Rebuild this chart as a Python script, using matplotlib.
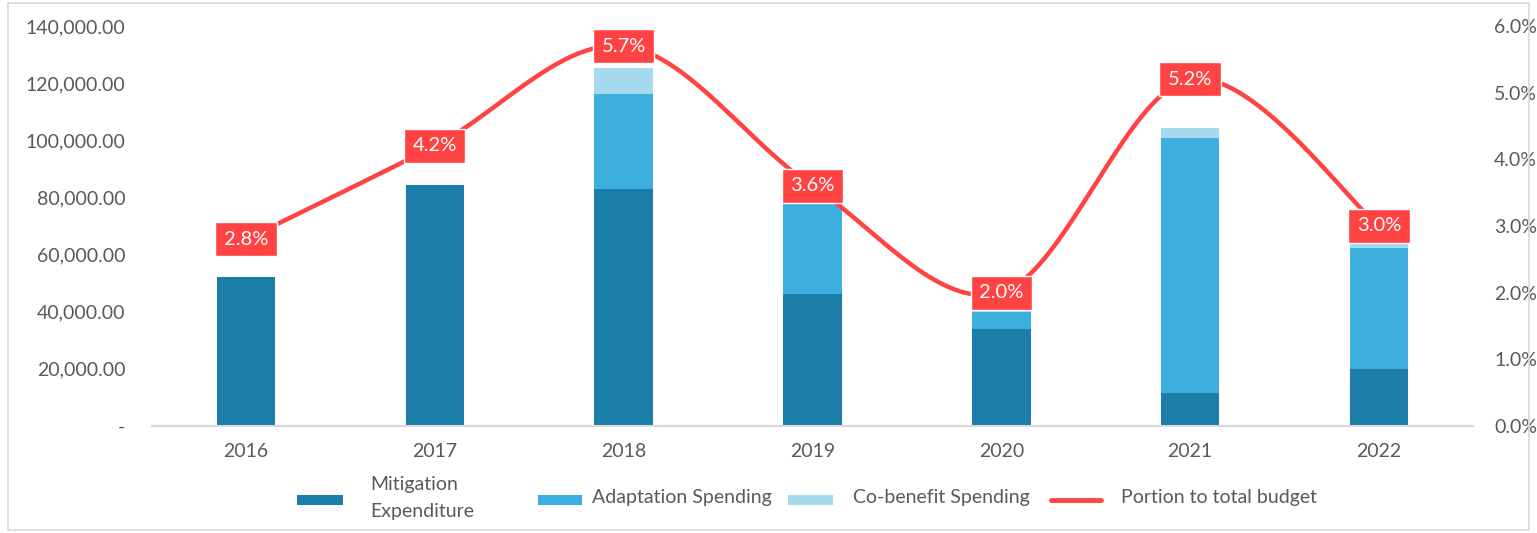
import matplotlib
matplotlib.use("Agg")
import matplotlib.pyplot as plt
import numpy as np
from matplotlib.patches import Rectangle
from matplotlib.lines import Line2D
from matplotlib.ticker import FuncFormatter

years = ["2016", "2017", "2018", "2019", "2020", "2021", "2022"]
mitigation = [52000, 84300, 82950, 46100, 33850, 11650, 19850]
adaptation = [0, 0, 33250, 32650, 6150, 89250, 42550]
cobenefit = [0, 0, 9200, 4550, 8300, 3500, 4100]
portion = [2.8, 4.2, 5.7, 3.6, 2.0, 5.2, 3.0]
series_names = ["Mitigation\nExpenditure", "Adaptation Spending", "Co-benefit Spending", "Portion to total budget"]

C_MIT = "#1B7EA8"
C_ADA = "#3DAFDE"
C_COB = "#A6DAEF"
C_LINE = "#FF4343"
C_TXT = "#595959"

plt.rcParams['font.family'] = ['Lato', 'DejaVu Sans']

W, H = 1537, 533
fig = plt.figure(figsize=(W / 100, H / 100), dpi=100)
ax = fig.add_axes([0.0986, 0.2008, 0.86, 0.7504])
x = np.arange(len(years))
w = 0.31
mit = np.array(mitigation, float)
ada = np.array(adaptation, float)
cob = np.array(cobenefit, float)
ax.bar(x, mit, w, color=C_MIT, zorder=2)
ax.bar(x, ada, w, bottom=mit, color=C_ADA, zorder=2)
ax.bar(x, cob, w, bottom=mit + ada, color=C_COB, zorder=2)

ax.set_xlim(-0.5, len(years) - 0.5)
ax.set_ylim(0, 140000)
ax.set_yticks(np.arange(0, 140001, 20000))
ax.yaxis.set_major_formatter(FuncFormatter(lambda v, p: "-" if v == 0 else f"{v:,.2f}"))
ax.set_xticks(x)
ax.set_xticklabels(years)
for s in ["top", "right", "left"]:
    ax.spines[s].set_visible(False)
ax.spines["bottom"].set_color("#D9D9D9")
ax.spines["bottom"].set_linewidth(1.5)
ax.tick_params(axis="both", length=0, colors=C_TXT, labelsize=14)
ax.tick_params(axis="y", pad=19)
ax.tick_params(axis="x", pad=12)

ax2 = ax.twinx()
ax2.set_ylim(0, 6)
ax2.set_yticks(np.arange(0, 6.01, 1))
ax2.yaxis.set_major_formatter(FuncFormatter(lambda v, p: f"{v:.1f}%"))
for s in ["top", "right", "left", "bottom"]:
    ax2.spines[s].set_visible(False)
ax2.tick_params(axis="y", length=0, colors=C_TXT, labelsize=14, pad=15)

# Smooth line (Bezier/Catmull-Rom through the data points)
px = x.astype(float)
py = np.array(portion, float)
pts = np.column_stack([px, py])
curve = []
n = len(pts)
for i in range(n - 1):
    p0 = pts[i - 1] if i > 0 else pts[i]
    p1 = pts[i]
    p2 = pts[i + 1]
    p3 = pts[i + 2] if i + 2 < n else pts[i + 1]
    c1 = p1 + (p2 - p0) / 6.0
    c2 = p2 - (p3 - p1) / 6.0
    t = np.linspace(0, 1, 40)[:, None]
    seg = ((1 - t) ** 3) * p1 + 3 * ((1 - t) ** 2) * t * c1 + 3 * (1 - t) * t ** 2 * c2 + t ** 3 * p2
    curve.append(seg if i == 0 else seg[1:])
curve = np.vstack(curve)
ax2.plot(curve[:, 0], curve[:, 1], color=C_LINE, lw=3.2, zorder=3, solid_capstyle="round")

for xi, v in zip(px, py):
    ax2.text(xi, v, f"{v:.1f}%", ha="center", va="center", color="white", fontsize=14.5,
             zorder=5,
             bbox=dict(boxstyle="square,pad=0.42", fc=C_LINE, ec="white", lw=1))

# Legend drawn manually (pixel layout of reference)
def fx(p):
    return p / W

def fy(p):
    return 1 - p / H

yc = 500
entries = [
    ("patch", C_MIT, 297, 343, 370),
    ("patch", C_ADA, 538, 582, 592),
    ("patch", C_COB, 788, 833, 853),
    ("line", C_LINE, 1051, 1101, 1121),
]
for (kind, col, x0, x1, tx), name in zip(entries, series_names):
    if kind == "patch":
        fig.add_artist(Rectangle((fx(x0), fy(yc + 5)), fx(x1 - x0), 10 / H,
                                 transform=fig.transFigure, fc=col, ec="none"))
    else:
        fig.add_artist(Line2D([fx(x0), fx(x1)], [fy(yc), fy(yc)], transform=fig.transFigure,
                              color=col, lw=3.5, solid_capstyle="round"))
    fig.text(fx(tx), fy(yc - 2), name, ha="left", va="center", fontsize=14, color=C_TXT,
             linespacing=1.7, multialignment="left")

fig.add_artist(Rectangle((0.005, 0.006), 0.99, 0.988, transform=fig.transFigure, fill=False,
                         ec="#D9D9D9", lw=1.2))

fig.savefig("out.png", dpi=100)
